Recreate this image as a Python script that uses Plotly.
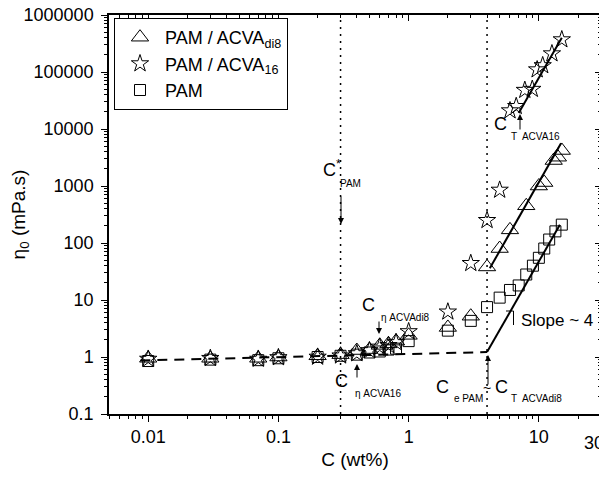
import plotly.graph_objects as go
import math

# ---------------- data ----------------
x_di8 = [0.01, 0.03, 0.07, 0.1, 0.2, 0.3, 0.4, 0.5, 0.6, 0.7, 0.8, 1.0,
         2.0, 3.0, 4.0, 5.0, 6.0, 8.0, 10.0, 11.0, 13.0, 14.0, 15.0]
y_di8 = [0.95, 0.95, 0.95, 1.0, 1.05, 1.1, 1.3, 1.35, 1.6, 1.7, 1.9, 2.4,
         3.3, 5.2, 38, 80, 170, 450, 1000, 1150, 2800, 3200, 4200]

x_16 = [0.01, 0.03, 0.07, 0.1, 0.2, 0.3, 0.4, 0.5, 0.6, 0.7, 0.8, 1.0,
        2.0, 3.0, 4.0, 5.0, 6.0, 6.7, 7.8, 8.9, 9.7, 10.7, 12.6, 15.0]
y_16 = [0.92, 0.95, 0.92, 0.98, 1.0, 1.05, 1.15, 1.3, 1.5, 1.6, 1.8, 2.8,
        6.2, 44, 250, 850, 21000, 25000, 48000, 50000, 110000, 130000, 210000, 370000]

x_pam = [0.01, 0.03, 0.07, 0.1, 0.2, 0.3, 0.4, 0.5, 0.6, 0.7, 0.8, 1.0,
         2.0, 3.0, 4.0, 5.0, 6.0, 7.0, 8.0, 9.0, 10.0, 11.0, 12.0, 13.4, 15.0]
y_pam = [0.85, 0.9, 0.88, 0.95, 1.0, 1.05, 1.1, 1.2, 1.25, 1.35, 1.4, 1.9,
         2.9, 4.3, 7.5, 11, 15, 18, 28, 40, 55, 80, 115, 160, 210]

fit16_x = [7.0, 15.0]
fit16_y = [19000, 400000]
fitdi8_x = [4.2, 14.8]
fitdi8_y = [36, 5600]
fitpam_x = [4.0, 14.5]
fitpam_y = [1.22, 210]
dash_x = [0.0087, 4.0]
dash_y = [0.87, 1.22]
vline_c = [0.3, 4.0]
y_span = [0.1, 1000000]

x_ticks = [0.01, 0.1, 1, 10, 30]
x_ticktext = ["0.01", "0.1", "1", "10", ""]   # "30" is drawn as an edge label below
x_edge_label = "30"
y_ticks = [0.1, 1, 10, 100, 1000, 10000, 100000, 1000000]
y_ticktext = ["0.1", "1", "10", "100", "1000", "10000", "100000", "1000000"]

# ---------------- layout geometry ----------------
# the page body has an 8px margin, so the figure is drawn 8px right/down
OFF = 8
W, H = 607 - OFF, 480 - OFF
L, R, T, B = 109, 601, 15, 414   # plot area in screen pixels
FONT = "Liberation Sans, Arial, sans-serif"


def P(px, py):
    return (px - L) / (R - L), (B - py) / (B - T)


fig = go.Figure()

# vertical dotted lines
for c in vline_c:
    fig.add_trace(go.Scatter(x=[c, c], y=y_span, mode="lines",
                             line=dict(color="black", width=1.5, dash="2px,5px"),
                             showlegend=False, hoverinfo="skip"))

# fit lines
fig.add_trace(go.Scatter(x=dash_x, y=dash_y, mode="lines",
                         line=dict(color="black", width=2, dash="10px,7px"),
                         showlegend=False, hoverinfo="skip"))
for fx, fy in [(fit16_x, fit16_y), (fitdi8_x, fitdi8_y), (fitpam_x, fitpam_y)]:
    fig.add_trace(go.Scatter(x=fx, y=fy, mode="lines",
                             line=dict(color="black", width=2),
                             showlegend=False, hoverinfo="skip"))

# data series
fig.add_trace(go.Scatter(x=x_di8, y=y_di8, mode="markers", name="PAM / ACVA<sub>di8</sub>",
                         marker=dict(symbol="triangle-up-open", size=15, color="black",
                                     line=dict(width=1, color="black"))))
fig.add_trace(go.Scatter(x=x_16, y=y_16, mode="markers", name="PAM / ACVA<sub>16</sub>",
                         marker=dict(symbol="star-open", size=13, color="black",
                                     line=dict(width=1, color="black"))))
fig.add_trace(go.Scatter(x=x_pam, y=y_pam, mode="markers", name="PAM",
                         marker=dict(symbol="square-open", size=11, color="black",
                                     line=dict(width=1, color="black"))))

# invisible trace for mirrored top/right axes
fig.add_trace(go.Scatter(x=[1], y=[1], xaxis="x2", yaxis="y2", mode="markers",
                         marker=dict(opacity=0), showlegend=False, hoverinfo="skip"))

xr = [math.log10(0.005), math.log10(30)]
yr = [-1, 6]

ann = []


def text(px, py, s, size, xa="center", ya="middle"):
    x, y = P(px, py)
    ann.append(dict(x=x, y=y, xref="paper", yref="paper", text=s, showarrow=False,
                    xanchor=xa, yanchor=ya, font=dict(size=size, color="black", family=FONT)))


def arrow(hx, hy, tx, ty):
    x, y = P(hx, hy)
    ann.append(dict(x=x, y=y, xref="paper", yref="paper", ax=tx - hx, ay=ty - hy,
                    text="", showarrow=True, arrowhead=2, arrowsize=1.2, arrowwidth=1,
                    arrowcolor="black"))


SUB = 10
# C*PAM
text(332, 168, "C<sup>*</sup>", 18)
text(338, 183, "PAM", SUB, xa="left")
arrow(341, 224, 341, 195)
# C eta ACVAdi8
text(368, 305, "C", 18)
text(379, 317, "η ACVAdi8", SUB, xa="left")
arrow(379, 334, 379, 320)
# C eta ACVA16
text(341, 381, "C", 18)
text(353, 393, "η ACVA16", SUB, xa="left")
arrow(357, 364, 357, 379)
# C e PAM ~ C T ACVAdi8
text(442, 387, "C", 18)
text(452, 398, "e PAM", SUB, xa="left")
text(487, 388, "~", 14)
text(501, 387, "C", 18)
text(509, 398, "T  ACVAdi8", SUB, xa="left")
arrow(488, 355, 488, 386)
# C T ACVA16
text(500, 124, "C", 18)
text(509, 136, "T  ACVA16", SUB, xa="left")
arrow(520, 114, 520, 131)
# Slope
text(519, 320, "Slope ~ 4", 17, xa="left")
# right-most x tick label, kept inside the page
text(606, 443, x_edge_label, 18, xa="right")

x0, y0 = P(506, 311)
x1, y1 = P(513.5, 311)
x2, y2 = P(513.5, 325)
shapes = [dict(type="path", xref="paper", yref="paper",
               path=f"M {x0},{y0} L {x1},{y1} L {x2},{y2}",
               line=dict(color="black", width=1))]

axis_common = dict(showline=True, linecolor="black", linewidth=1.5, showgrid=False,
                   zeroline=False, ticks="outside", ticklen=6, tickwidth=1, tickcolor="black",
                   ticklabeloverflow="allow", automargin=False,
                   tickfont=dict(size=18, color="black", family=FONT))

mirror_common = dict(showline=True, linecolor="black", linewidth=1.5, showgrid=False,
                     zeroline=False, showticklabels=False, ticks="inside", ticklen=6,
                     tickcolor="black", automargin=False,
                     minor=dict(dtick="D1", ticks="inside", ticklen=3, tickcolor="black",
                                showgrid=False))

fig.update_layout(
    width=W, height=H,
    margin=dict(l=L - OFF, r=607 - R, t=T - OFF, b=480 - B, autoexpand=False),
    paper_bgcolor="white", plot_bgcolor="white",
    font=dict(family=FONT, color="black"),
    xaxis=dict(type="log", range=xr, tickvals=x_ticks, ticktext=x_ticktext,
               title=dict(text="C (wt%)", font=dict(size=19), standoff=6),
               minor=dict(dtick="D1", ticks="outside", ticklen=3, tickcolor="black", showgrid=False),
               **axis_common),
    yaxis=dict(type="log", range=yr, tickvals=y_ticks, ticktext=y_ticktext,
               title=dict(text="η<sub>0</sub> (mPa.s)", font=dict(size=19), standoff=6),
               ticklabelstandoff=4,
               minor=dict(dtick="D1", ticks="outside", ticklen=3, tickcolor="black", showgrid=False),
               **axis_common),
    xaxis2=dict(type="log", range=xr, overlaying="x", side="top", anchor="y",
                tickvals=x_ticks, **mirror_common),
    yaxis2=dict(type="log", range=yr, overlaying="y", side="right", anchor="x",
                tickvals=y_ticks, **mirror_common),
    legend=dict(x=P(114, 18)[0], y=P(114, 18)[1], xanchor="left", yanchor="top",
                bordercolor="black", borderwidth=1, bgcolor="white",
                font=dict(size=18, family=FONT, color="black"), tracegroupgap=0,
                itemwidth=40),
    annotations=ann,
    shapes=shapes,
    showlegend=True,
)

fig.write_html("out.html")
